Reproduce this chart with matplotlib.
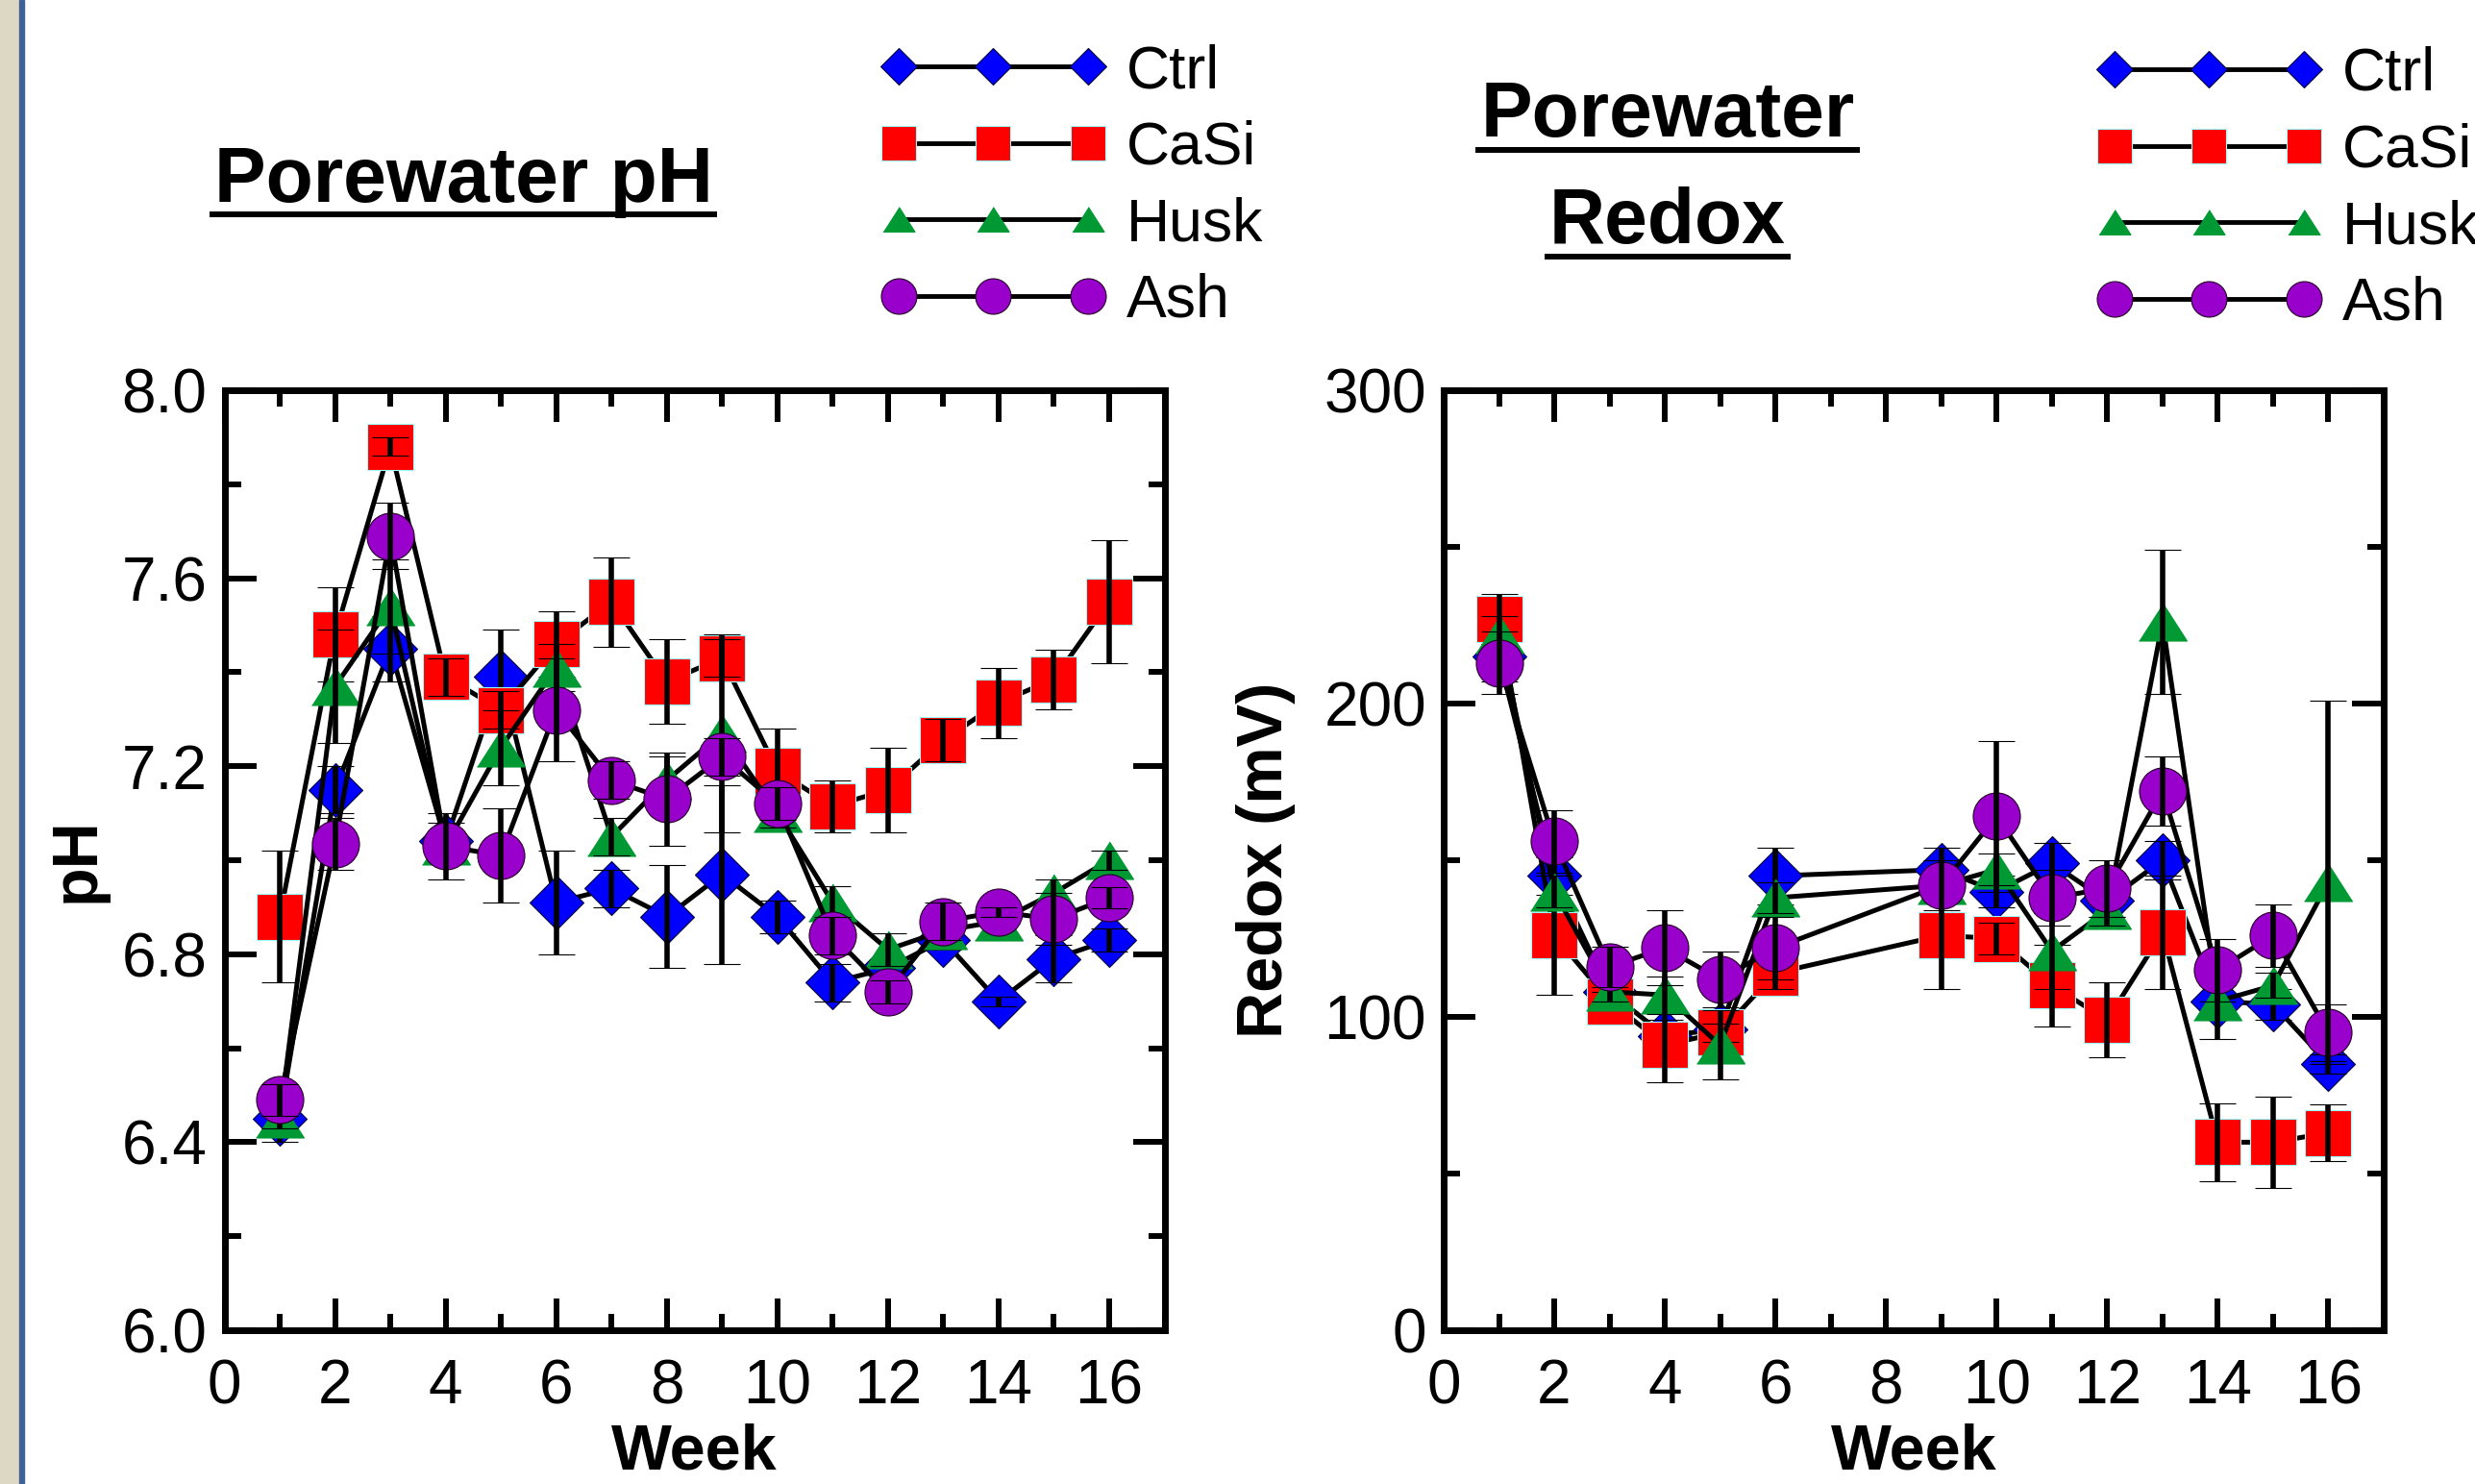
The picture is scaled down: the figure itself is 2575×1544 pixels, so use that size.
import numpy as np
import matplotlib
matplotlib.use("Agg")
import matplotlib.pyplot as plt
from matplotlib.lines import Line2D
from matplotlib.patches import Rectangle
from matplotlib.ticker import MultipleLocator, FormatStrFormatter

plt.rcParams['font.family'] = ['Liberation Sans', 'DejaVu Sans']

# --- data ---
series_names = ["Ctrl", "CaSi", "Husk", "Ash"]

weeks_ph = [1, 2, 3, 4, 5, 6, 7, 8, 9, 10, 11, 12, 13, 14, 15, 16]
ph_ctrl = [6.45, 7.15, 7.45, 7.04, 7.39, 6.91, 6.94, 6.88, 6.97, 6.88, 6.74, 6.77, 6.83, 6.70, 6.79, 6.83]
ph_ctrl_err = [0.05, 0.05, 0.07, 0.04, 0.10, 0.11, 0.04, 0.11, 0.19, 0.035, 0.04, 0.02, 0.02, 0.01, 0.05, 0.025]
ph_casi = [6.88, 7.48, 7.88, 7.39, 7.32, 7.46, 7.55, 7.38, 7.43, 7.19, 7.115, 7.15, 7.255, 7.335, 7.385, 7.55]
ph_casi_err = [0.14, 0.10, 0.02, 0.04, 0.04, 0.07, 0.095, 0.09, 0.04, 0.09, 0.055, 0.09, 0.045, 0.075, 0.063, 0.13]
ph_husk = [6.45, 7.37, 7.54, 7.03, 7.24, 7.41, 7.05, 7.17, 7.27, 7.10, 6.91, 6.81, 6.85, 6.87, 6.93, 7.00]
ph_husk_err = [0.02, 0.12, 0.10, 0.03, 0.08, 0.05, 0.04, 0.05, 0.21, 0.03, 0.035, 0.035, 0.02, 0.01, 0.03, 0.02]
ph_ash = [6.49, 7.035, 7.69, 7.03, 7.01, 7.32, 7.17, 7.13, 7.22, 7.12, 6.84, 6.72, 6.87, 6.89, 6.875, 6.92]
ph_ash_err = [0.033, 0.055, 0.07, 0.07, 0.10, 0.11, 0.04, 0.10, 0.04, 0.035, 0.04, 0.025, 0.04, 0.01, 0.055, 0.023]

weeks_rx = [1, 2, 3, 4, 5, 6, 9, 10, 11, 12, 13, 14, 15, 16]
rx_ctrl = [215, 145, 108, 94, 96, 145, 147, 140, 149, 137, 150, 105, 104, 85]
rx_ctrl_err = [8, 6, 4, 5, 4, 9, 7, 5, 6.5, 5, 6, 5, 5, 3]
rx_casi = [227, 126, 105, 91, 95, 114, 126, 125, 110, 99, 127, 60, 60, 63]
rx_casi_err = [8, 19, 3, 12, 3, 5, 17, 5, 13, 12, 18, 12.5, 14.6, 9]
rx_husk = [222, 140, 108, 107, 91, 138, 142, 147, 121, 134, 226, 105, 110, 143]
rx_husk_err = [6, 5, 3, 6, 11, 5, 4, 5, 12, 5, 23, 12, 4, 58]
rx_ash = [213, 156, 116, 122, 112, 122, 142, 164, 138, 141, 172, 115, 126, 95]
rx_ash_err = [10, 10, 6.5, 12, 9, 10, 8, 24, 9, 9, 11, 10, 10, 9]

# --- styles ---
tri = [(-1, -0.78), (1, -0.78), (0, 0.78)]
colors = ['#0000FF', '#FF0000', '#009933', '#9900CC']
edges = ['#000033', '#99FFFF', '#009933', '#220022']
markers = ['D', 's', tri, 'o']
plot_ms = [29, 34.5, 36, 35.3]
leg_ms = [19, 26.6, 23.8, 26.6]

W, H = 2575, 1544
fig = plt.figure(figsize=(W / 100, H / 100), dpi=100)

# left window strip
fig.add_artist(Rectangle((0, 0), 20 / W, 1, transform=fig.transFigure, color='#DDD8C3', zorder=0))
fig.add_artist(Rectangle((20 / W, 0), 5 / W, 1, transform=fig.transFigure, color='#3F6397', zorder=0))

ax1 = fig.add_axes([233.5 / W, 1 - 1384 / H, 978 / W, 978 / H])
ax2 = fig.add_axes([1502 / W, 1 - 1384 / H, 978 / W, 978 / H])


def draw_series(ax, weeks, vals, errs):
    for i in range(4):
        ax.errorbar(weeks[i], vals[i], yerr=errs[i], color='black', lw=3.6,
                    marker=markers[i], ms=plot_ms[i], mfc=colors[i], mec=edges[i], mew=0.8,
                    ecolor='black', elinewidth=4.0, capsize=13.7, capthick=5.0,
                    barsabove=True, zorder=3 + i)


def style_axes(ax, ylim, ymaj, ymin, fmt, ylabel, lpad):
    ax.set_xlim(0, 17)
    ax.set_ylim(*ylim)
    ax.xaxis.set_major_locator(MultipleLocator(2))
    ax.xaxis.set_minor_locator(MultipleLocator(1))
    ax.yaxis.set_major_locator(MultipleLocator(ymaj))
    ax.yaxis.set_minor_locator(MultipleLocator(ymin))
    ax.yaxis.set_major_formatter(FormatStrFormatter(fmt))
    ax.tick_params(which='both', direction='in', top=True, right=True, width=4.3,
                   labelsize=46)
    ax.tick_params(axis='x', which='both', pad=21)
    ax.tick_params(axis='y', which='both', pad=13)
    ax.tick_params(which='major', length=24)
    ax.tick_params(which='minor', length=12)
    for s in ax.spines.values():
        s.set_linewidth(5)
    ax.set_xlabel("Week", fontsize=48, fontweight='bold', labelpad=5)
    ax.set_ylabel(ylabel, fontsize=48, fontweight='bold', labelpad=lpad)


draw_series(ax1, [weeks_ph] * 4, [ph_ctrl, ph_casi, ph_husk, ph_ash],
            [ph_ctrl_err, ph_casi_err, ph_husk_err, ph_ash_err])
draw_series(ax2, [weeks_rx] * 4, [rx_ctrl, rx_casi, rx_husk, rx_ash],
            [rx_ctrl_err, rx_casi_err, rx_husk_err, rx_ash_err])

style_axes(ax1, (6.0, 8.0), 0.4, 0.2, '%.1f', "pH", 11)
style_axes(ax2, (0, 300), 100, 50, '%d', "Redox (mV)", 21)

# legends
handles = [Line2D([], [], color='black', lw=3.5, marker=markers[i], ms=leg_ms[i],
                  mfc=colors[i], mec=edges[i], mew=0.8) for i in range(4)]
for lx, ly in [(916, 45), (2181, 48)]:
    fig.legend(handles, series_names, loc='upper left', bbox_to_anchor=(lx / W, 1 - ly / H),
               bbox_transform=fig.transFigure, frameon=False, fontsize=45, numpoints=3,
               handlelength=3.75, handletextpad=0.35, labelspacing=0.33,
               borderpad=0, borderaxespad=0)

# underlined titles
titles = [("Porewater pH", 482, 210, 223), ("Porewater", 1735, 142, 155.5), ("Redox", 1735, 253, 267)]
renderer = fig.canvas.get_renderer()
for txt, cx, base, uy in titles:
    t = fig.text(cx / W, 1 - base / H, txt, ha='center', va='baseline', fontsize=58, fontweight='bold')
    bb = t.get_window_extent(renderer)
    fig.add_artist(Line2D([(bb.x0 - 2) / W, (bb.x1 + 2) / W], [1 - uy / H] * 2,
                          transform=fig.transFigure, color='black', lw=4.3))

fig.savefig("out.png", dpi=100)
